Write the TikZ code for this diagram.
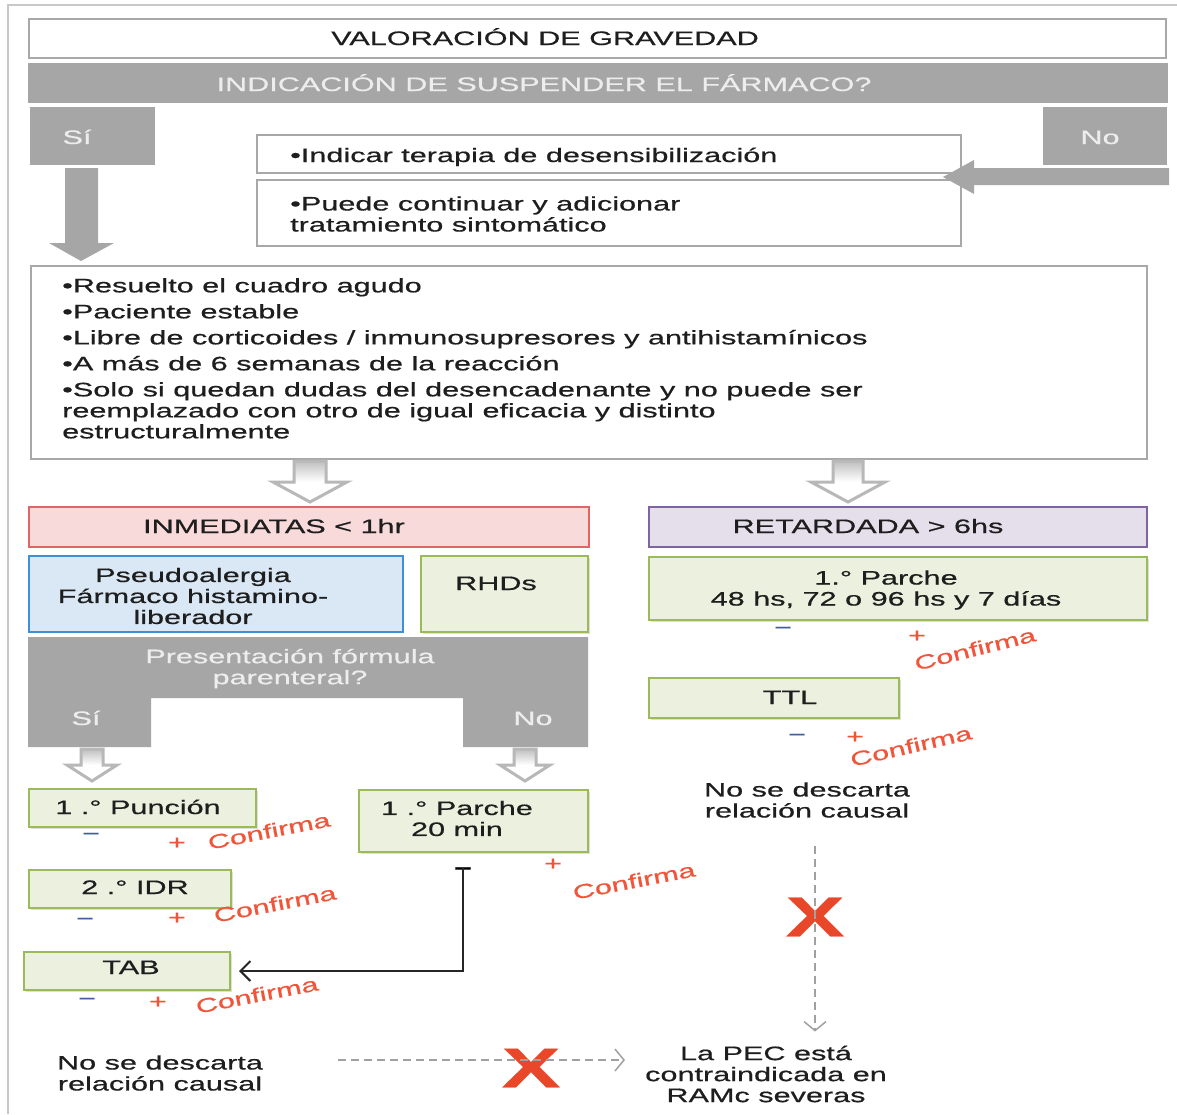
\documentclass[tikz,border=0pt]{standalone}
\usepackage{fontspec}
\setmainfont{Liberation Sans}[FakeStretch=1.57,FakeBold=0.6]
\usetikzlibrary{arrows.meta,calc,shadows}
\definecolor{bargray}{HTML}{A6A6A6}
\definecolor{bartext}{HTML}{EDEDED}
\definecolor{boxline}{HTML}{A8A8A8}
\definecolor{grnfill}{HTML}{EBF1DE}
\definecolor{grnline}{HTML}{9BBB59}
\definecolor{pinkfill}{HTML}{F9DADA}
\definecolor{pinkline}{HTML}{E06666}
\definecolor{bluefill}{HTML}{DAE8F5}
\definecolor{blueline}{HTML}{3D8FD6}
\definecolor{lavfill}{HTML}{E5DFEC}
\definecolor{lavline}{HTML}{8064A2}
\definecolor{confred}{HTML}{F0553A}
\definecolor{minblue}{HTML}{3F5F99}
\definecolor{xred}{HTML}{E8472A}
\definecolor{framec}{HTML}{C8C8C8}
\definecolor{txtc}{HTML}{1E1E1E}
\definecolor{hollc}{HTML}{B8B8B8}
\definecolor{dashc}{HTML}{A0A0A0}
\begin{document}
\begin{tikzpicture}[x=1pt,y=-1pt,
  every node/.style={font=\fontsize{19.5}{21}\selectfont, inner sep=0pt, text=txtc},
  rbox/.style={anchor=north west, draw=boxline, line width=1.8pt, fill=white},
  gbox/.style={anchor=north west, fill=bargray, draw=none},
  grnbox/.style={anchor=north west, draw=grnline, line width=2pt, fill=grnfill,
     drop shadow={shadow xshift=1.5pt, shadow yshift=-2pt, opacity=0.25}},
  pinkbox/.style={anchor=north west, draw=pinkline, line width=2pt, fill=pinkfill},
  bluebox/.style={anchor=north west, draw=blueline, line width=2pt, fill=bluefill},
  lavbox/.style={anchor=north west, draw=lavline, line width=2pt, fill=lavfill},
  lbl/.style={text height=16pt, text depth=2pt},
  conf/.style={text=confred, rotate=11, lbl},
  plusl/.style={text=confred, lbl},
  minusl/.style={text=minblue, lbl},
  holl/.style={top color=hollc!90, bottom color=white, middle color=white, draw=hollc, line width=3pt, line join=miter},
  grayarrow/.style={fill=bargray, draw=none},
  dashl/.style={draw=dashc, line width=1.5pt, dash pattern=on 8pt off 5pt,
     -{Straight Barb[length=9pt,width=22pt,line width=1.5pt]}},
  conn/.style={draw=black!85, line width=2pt, shorten >=8pt,
     -{Straight Barb[length=10pt,width=20pt,line width=2pt]}},
  xmark/.style={text=xred, font=\fontsize{56}{56}\bfseries\selectfont}
]
\useasboundingbox (0,0) rectangle (1177,1114);
\fill[white] (0,0) rectangle (1177,1114);
% frame
\draw[framec, line width=1.5pt] (8,1114) -- (8,5) -- (1177,5);

% top boxes
\node[rbox, minimum width=1137pt, minimum height=39pt] (val) at (28,18) {};
\node[lbl] (tval) at (545,38) {VALORACIÓN DE GRAVEDAD};
\node[gbox, minimum width=1140pt, minimum height=40pt] (bar) at (28,63) {};
\node[lbl, text=bartext] (tbar) at (544,84) {INDICACIÓN DE SUSPENDER EL FÁRMACO?};
\node[gbox, minimum width=125pt, minimum height=58pt] (si) at (30,107) {};
\node[lbl, text=bartext] (tsi) at (77,137) {Sí};
\node[gbox, minimum width=124pt, minimum height=58pt] (no) at (1043,107) {};
\node[lbl, text=bartext] (tno) at (1100,137) {No};

\node[rbox, minimum width=704pt, minimum height=38pt] (ind) at (256,134) {};
\node[lbl, anchor=west] (tind) at (290,155) {•Indicar terapia de desensibilización};
\node[rbox, minimum width=704pt, minimum height=66pt] (pue) at (256,179) {};
\node[anchor=west, align=left] (tpue) at (290,214) {•Puede continuar y adicionar\\tratamiento sintomático};

% gray arrows
\path[grayarrow] (65,168) -- (98,168) -- (98,243) -- (114,243) -- (81,261) -- (49,243) -- (65,243) -- cycle;
\path[grayarrow] (1169,168) -- (974,168) -- (974,160) -- (943,177) -- (974,194) -- (974,185) -- (1169,185) -- cycle;

% list box
\node[rbox, minimum width=1116pt, minimum height=193pt] (lst) at (30,265) {};
\node[anchor=north west, align=left] (tlst) at (62,278) {•Resuelto el cuadro agudo\\[5pt]
•Paciente estable\\[5pt]
•Libre de corticoides / inmunosupresores y antihistamínicos\\[5pt]
•A más de 6 semanas de la reacción\\[5pt]
•Solo si quedan dudas del desencadenante y no puede ser\\
reemplazado con otro de igual eficacia y distinto\\
estructuralmente};

% hollow arrows
\path[holl] (294,461) -- (326,461) -- (326,482) -- (347,482) -- (310,502) -- (273,482) -- (294,482) -- cycle;
\path[holl] (833,461) -- (863,461) -- (863,482) -- (885,482) -- (848,502) -- (811,482) -- (833,482) -- cycle;

% left column
\node[pinkbox, minimum width=560pt, minimum height=40pt] (inm) at (28,506) {};
\node[lbl] (tinm) at (274,526) {INMEDIATAS < 1hr};
\node[bluebox, minimum width=374pt, minimum height=76pt] (pse) at (28,555) {};
\node[align=center] (tpse) at (193,596) {Pseudoalergia\\Fármaco histamino-\\liberador};
\node[grnbox, minimum width=167pt, minimum height=76pt] (rhd) at (420,555) {};
\node[lbl] (trhd) at (496,583) {RHDs};

\path[fill=bargray] (28,637) -- (588,637) -- (588,747) -- (463,747) -- (463,698) -- (151,698) -- (151,747) -- (28,747) -- cycle;
\node[align=center, text=bartext] (tpres) at (290,668.5) {Presentación fórmula\\parenteral?};
\node[lbl, text=bartext] (tsi2) at (86,718) {Sí};
\node[lbl, text=bartext] (tno2) at (533,718) {No};

\path[holl] (81,749) -- (103,749) -- (103,765) -- (117,765) -- (92,781) -- (67,765) -- (81,765) -- cycle;
\path[holl] (514,749) -- (536,749) -- (536,765) -- (550,765) -- (525,781) -- (500,765) -- (514,765) -- cycle;

\node[grnbox, minimum width=227pt, minimum height=38pt] (pun) at (28,788) {};
\node[lbl] (tpun) at (138,807) {1 .° Punción};
\node[grnbox, minimum width=229pt, minimum height=62pt] (p20) at (358,789) {};
\node[align=center] (tp20) at (457,818.5) {1 .° Parche\\20 min};
\node[grnbox, minimum width=202pt, minimum height=38pt] (idr) at (28,869) {};
\node[lbl] (tidr) at (135,887) {2 .° IDR};
\node[grnbox, minimum width=206pt, minimum height=38pt] (tab) at (23,951) {};
\node[lbl] (ttab) at (131,967) {TAB};

\node[minusl] (m1) at (91,833) {−};
\node[plusl] (p1) at (177,842) {+};
\node[conf] (c1) at (269,831) {Confirma};
\node[minusl] (m2) at (85,918) {−};
\node[plusl] (p2) at (177,917) {+};
\node[conf] (c2) at (275,904) {Confirma};
\node[minusl] (m3) at (87,998) {−};
\node[plusl] (p3) at (158,1001) {+};
\node[conf] (c3) at (257,995) {Confirma};
\node[lbl, text=black, font=\fontsize{19.5}{21}\bfseries\selectfont] (m20) at (463,868) {−};
\node[plusl] (p4) at (553,863) {+};
\node[conf] (c4) at (634,881) {Confirma};

\draw[conn] (m20.center) |- (tab.east);

% right column
\node[lavbox, minimum width=498pt, minimum height=40pt] (ret) at (648,506) {};
\node[lbl] (tret) at (868,526) {RETARDADA > 6hs};
\node[grnbox, minimum width=498pt, minimum height=63pt] (p48) at (648,556) {};
\node[align=center] (tp48) at (886,590) {1.° Parche\\48 hs, 72 o 96 hs y 7 días};
\node[grnbox, minimum width=250pt, minimum height=40pt] (ttl) at (648,677) {};
\node[lbl] (tttl) at (790,697) {TTL};

\node[minusl] (m4) at (783,627) {−};
\node[plusl] (p5) at (917,635) {+};
\node[conf, rotate=3] (c5) at (975,649) {Confirma};
\node[minusl] (m5) at (797,734) {−};
\node[plusl] (p6) at (855,736) {+};
\node[conf, rotate=2] (c6) at (911,746) {Confirma};

\node[align=center] (nsd2) at (807,800) {No se descarta\\relación causal};
\node[align=center] (nsd1) at (160,1073) {No se descarta\\relación causal};
\node[align=center] (pec) at (766,1074) {La PEC está\\contraindicada en\\RAMc severas};

\node[xmark] (x1) at (815,917) {X};
\node[xmark] (x2) at (531,1068) {X};

\draw[dashl] ($(x1.center |- nsd2.south)+(0,28)$) -- ($(x1.center |- pec.north)+(0,-14)$);
\draw[dashl] ($(nsd1.east)+(75,-13)$) -- ($(pec.west)+(-20,-14)$);
\end{tikzpicture}
\end{document}
